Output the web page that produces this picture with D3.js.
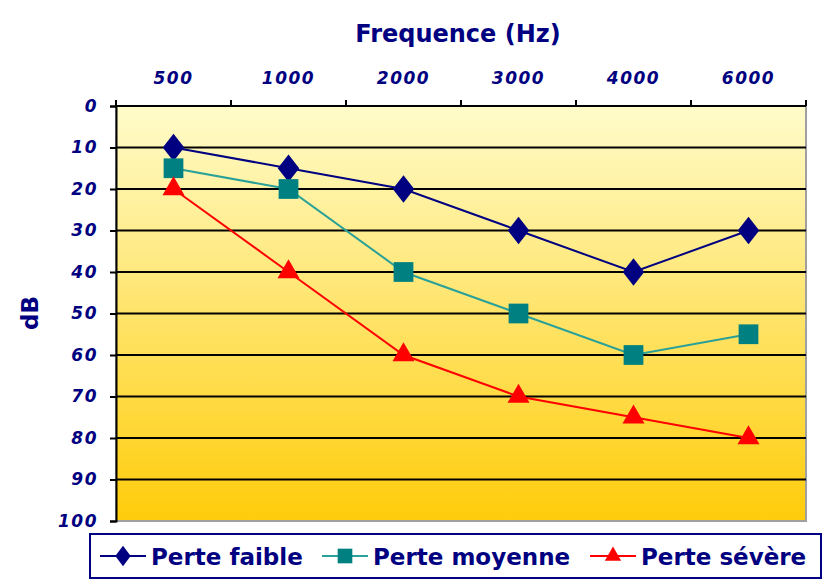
<!DOCTYPE html>
<html>
<head>
<meta charset="utf-8">
<script src="https://cdn.jsdelivr.net/npm/d3@7"></script>
<style>
  body { margin: 0; background: #fff; }
  .tick text { font-family: "DejaVu Sans", sans-serif; font-weight: bold; font-style: italic; fill: #000080; }
</style>
</head>
<body>
<div id="chart"></div>
<script>
// Chart data
var frequencies = ["500", "1000", "2000", "3000", "4000", "6000"];
var perteFaible = [10, 15, 20, 30, 40, 30];
var perteMoyenne = [15, 20, 40, 50, 60, 55];
var perteSevere = [20, 40, 60, 70, 75, 80];
var seriesNames = ["Perte faible", "Perte moyenne", "Perte sévère"];
var yTicks = [0, 10, 20, 30, 40, 50, 60, 70, 80, 90, 100];

var width = 826;
var height = 585;
var svg = d3.select('#chart')
    .append("svg")
    .attr("width", width)
    .attr("height", height);

var plot = { left: 116, right: 806, top: 106, bottom: 521 };

var xScale = d3.scaleBand()
    .domain(frequencies)
    .range([plot.left, plot.right]);
var yScale = d3.scaleLinear()
    .domain([0, 100])
    .range([plot.top, plot.bottom]);

var series = [
    { name: seriesNames[0], values: perteFaible, color: "#000080", symbol: d3.symbolDiamond, size: 220, markColor: "#000080" },
    { name: seriesNames[1], values: perteMoyenne, color: "#2AA198", symbol: d3.symbolSquare, size: 390, markColor: "#008080" },
    { name: seriesNames[2], values: perteSevere, color: "#FF0000", symbol: d3.symbolTriangle, size: 210, markColor: "#FF0000" }
];

// background gradient
var defs = svg.append("defs");
var grad = defs.append("linearGradient")
    .attr("id", "bg")
    .attr("x1", 0).attr("y1", 0).attr("x2", 0).attr("y2", 1);
grad.append("stop").attr("offset", "0%").attr("stop-color", "#FFFCCB");
grad.append("stop").attr("offset", "100%").attr("stop-color", "#FFCC0A");

svg.append("rect")
    .attr("x", plot.left)
    .attr("y", plot.top)
    .attr("width", plot.right - plot.left)
    .attr("height", plot.bottom - plot.top)
    .style("fill", "url(#bg)")
    .style("stroke", "#a0a0a0")
    .style("stroke-width", 2);

// gridlines
svg.append("g")
    .selectAll("line")
    .data(yTicks.slice(1, -1))
    .enter()
    .append("line")
    .attr("x1", plot.left)
    .attr("x2", plot.right)
    .attr("y1", function (d) { return yScale(d); })
    .attr("y2", function (d) { return yScale(d); })
    .style("stroke", "#000")
    .style("stroke-width", 2);

// top axis (category labels)
var xAxis = d3.axisTop(xScale).tickSize(0).tickPadding(22);
var xAxisG = svg.append("g")
    .attr("transform", "translate(0," + plot.top + ")")
    .call(xAxis);
xAxisG.select(".domain").remove();
xAxisG.selectAll("text")
    .style("font-size", "17px")
    .style("letter-spacing", "1.5px");
// tick marks between categories
var bounds = frequencies.map(function (f) { return xScale(f); }).concat([plot.right]);
xAxisG.selectAll(".sep")
    .data(bounds)
    .enter()
    .append("line")
    .attr("x1", function (d) { return d; })
    .attr("x2", function (d) { return d; })
    .attr("y1", -6)
    .attr("y2", 0)
    .style("stroke", "#000")
    .style("stroke-width", 2);
xAxisG.append("line")
    .attr("x1", plot.left).attr("x2", plot.right)
    .attr("y1", 0).attr("y2", 0)
    .style("stroke", "#000").style("stroke-width", 2);

// left axis
var yAxis = d3.axisLeft(yScale).tickValues(yTicks).tickSize(6).tickPadding(12);
var yAxisG = svg.append("g")
    .attr("transform", "translate(" + plot.left + ",0)")
    .call(yAxis);
yAxisG.select(".domain").style("stroke", "#000").style("stroke-width", 2);
yAxisG.selectAll(".tick line").style("stroke", "#000").style("stroke-width", 2);
yAxisG.selectAll("text")
    .style("font-size", "17px")
    .style("letter-spacing", "1.5px");

// titles
svg.append("text")
    .text("Frequence (Hz)")
    .attr("x", 458)
    .attr("y", 42)
    .attr("text-anchor", "middle")
    .style("font-family", "DejaVu Sans, sans-serif")
    .style("font-weight", "bold")
    .style("font-size", "24px")
    .style("fill", "#000080");
svg.append("text")
    .text("dB")
    .attr("transform", "translate(38,313) rotate(-90)")
    .attr("text-anchor", "middle")
    .style("font-family", "DejaVu Sans, sans-serif")
    .style("font-weight", "bold")
    .style("font-size", "23px")
    .style("fill", "#000080");

// lines and markers
var line = d3.line()
    .x(function (d, i) { return xScale(frequencies[i]) + xScale.bandwidth() / 2; })
    .y(function (d) { return yScale(d); });

var seriesGroups = svg.selectAll(".series")
    .data(series)
    .enter()
    .append("g")
    .classed("series", true);
seriesGroups.append("path")
    .attr("d", function (s) { return line(s.values); })
    .style("fill", "none")
    .style("stroke", function (s) { return s.color; })
    .style("stroke-width", 2);
seriesGroups.each(function (s) {
    d3.select(this).selectAll(".mark")
        .data(s.values)
        .enter()
        .append("path")
        .classed("mark", true)
        .attr("d", d3.symbol().type(s.symbol).size(s.size))
        .attr("transform", function (d, i) {
            var sy = s.symbol === d3.symbolDiamond ? "scale(1.35,1)" : "";
            return "translate(" + (xScale(frequencies[i]) + xScale.bandwidth() / 2) + "," + yScale(d) + ")" + sy;
        })
        .style("fill", s.markColor);
});

// legend
var legend = svg.append("g");
legend.append("rect")
    .attr("x", 90)
    .attr("y", 534)
    .attr("width", 731)
    .attr("height", 44)
    .style("fill", "#fff")
    .style("stroke", "#000080")
    .style("stroke-width", 2);
var legendX = [100, 322, 590];
var items = legend.selectAll(".leg")
    .data(series)
    .enter()
    .append("g")
    .classed("leg", true)
    .attr("transform", function (d, i) { return "translate(" + legendX[i] + ",556)"; });
items.append("line")
    .attr("x1", 0).attr("x2", 46)
    .attr("y1", 0).attr("y2", 0)
    .style("stroke", function (d) { return d.color; })
    .style("stroke-width", 2);
items.append("path")
    .attr("d", function (d) { return d3.symbol().type(d.symbol).size(d.size * 0.55)(); })
    .attr("transform", function (d) {
        return "translate(23,0)" + (d.symbol === d3.symbolDiamond ? "scale(1.3,1)" : "");
    })
    .style("fill", function (d) { return d.markColor; });
items.append("text")
    .text(function (d) { return d.name; })
    .attr("x", 51)
    .attr("y", 9)
    .style("font-family", "DejaVu Sans, sans-serif")
    .style("font-weight", "bold")
    .style("font-size", "23px")
    .style("fill", "#000080");
</script>
</body>
</html>
